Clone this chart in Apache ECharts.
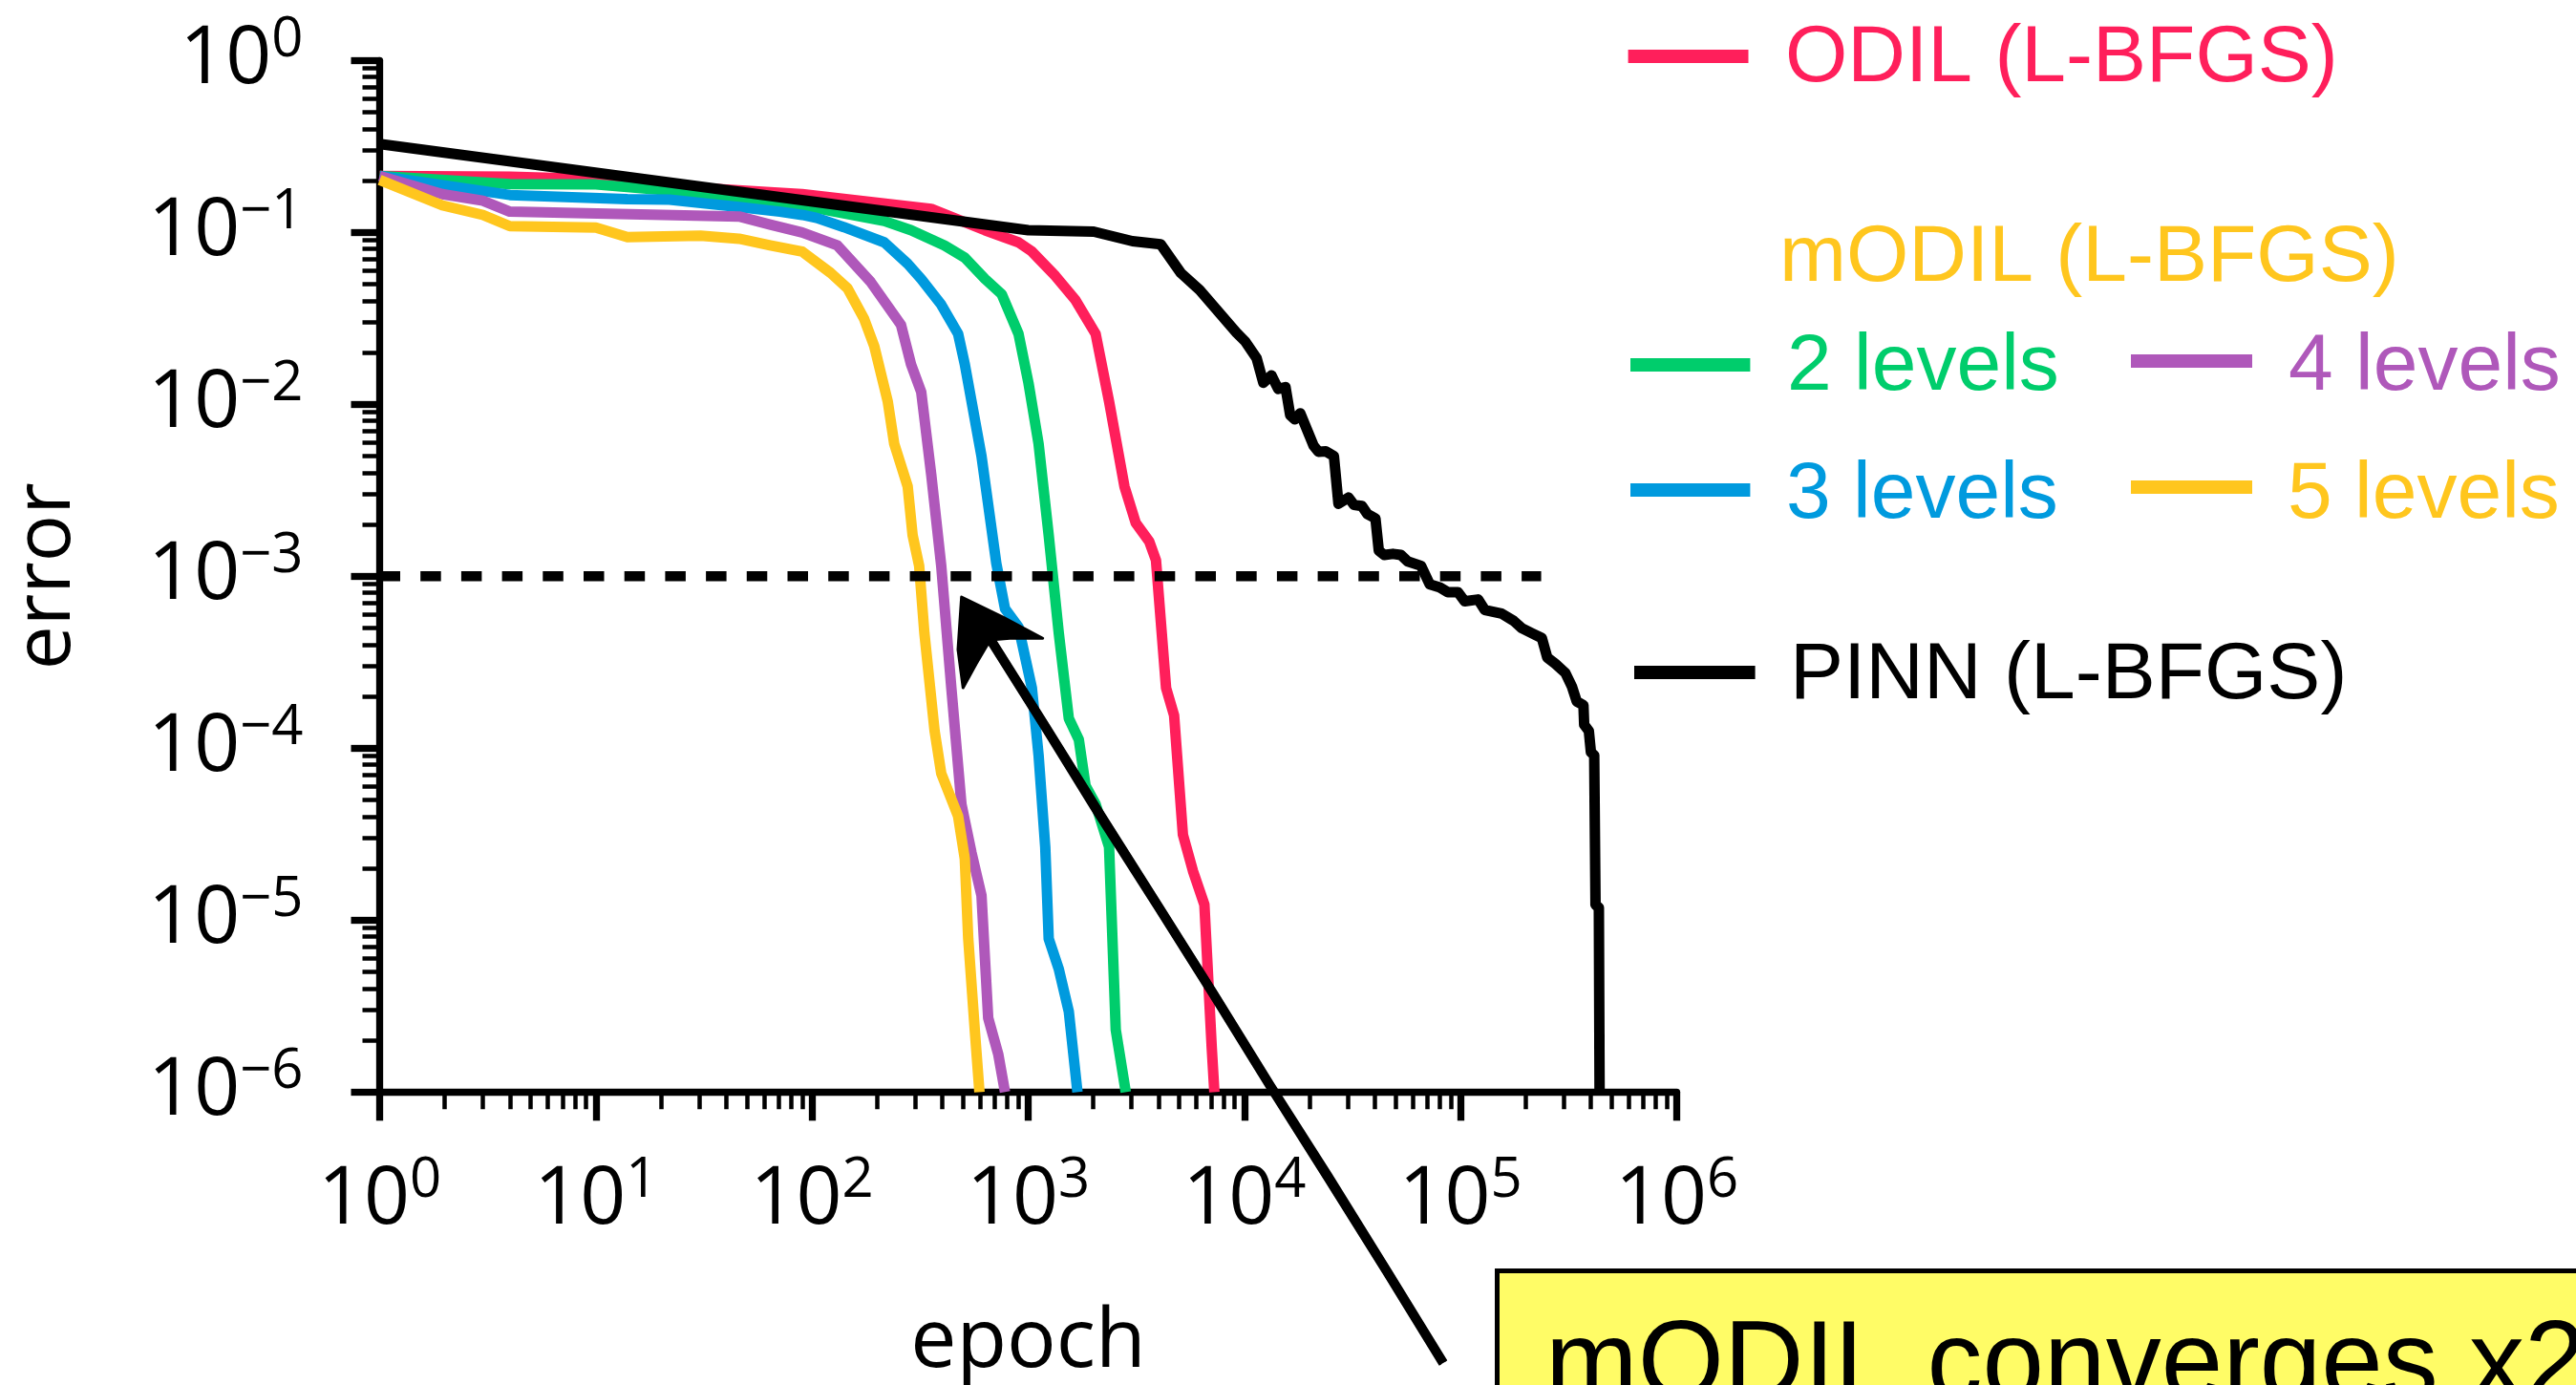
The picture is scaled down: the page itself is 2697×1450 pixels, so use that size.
<!DOCTYPE html>
<html>
<head>
<meta charset="utf-8">
<title>error vs epoch</title>
<style>
  html, body { margin: 0; padding: 0; background: #ffffff; }
  #chart { width: 2697px; height: 1450px; }
</style>
<script src="https://cdn.jsdelivr.net/npm/echarts@6/dist/echarts.min.js"></script>
</head>
<body>
<div id="chart"></div>
<script>
// ---- data: error per epoch ----
const odilEpoch = [1, 4, 10, 16.5, 90, 356, 630, 902, 1040, 1336, 1656, 2051, 2366, 2788, 3145, 3633, 3900, 4343, 4731, 5196, 5785, 6532, 7066, 7265];
const odilError = [0.213, 0.211, 0.2045, 0.19, 0.167, 0.137, 0.103, 0.0875, 0.0774, 0.0558, 0.0403, 0.0257, 0.0104, 0.00333, 0.00204, 0.00159, 0.00124, 0.000224, 0.000155, 3.14e-5, 1.93e-5, 1.23e-5, 1.8e-6, 1e-6];

const lv2Epoch = [1, 4, 10, 21.9, 32.6, 90, 216, 287, 410, 509, 631, 754, 902, 1003, 1117, 1244, 1385, 1541, 1715, 1842, 2051, 2366, 2541, 2827];
const lv2Error = [0.213, 0.191, 0.19, 0.175, 0.163, 0.1436, 0.1165, 0.103, 0.084, 0.0713, 0.0536, 0.0437, 0.0257, 0.0133, 0.00589, 0.00173, 0.000467, 0.000149, 0.000112, 6.05e-5, 4.73e-5, 2.67e-5, 2.3e-6, 1e-6];

const lv3Epoch = [1, 4, 14, 21.9, 46, 71, 90, 105, 140, 216, 277, 320, 396, 474, 509, 608, 712, 781, 902, 1040, 1117, 1199, 1244, 1385, 1541, 1690];
const lv3Error = [0.213, 0.165, 0.156, 0.155, 0.1405, 0.132, 0.1264, 0.1214, 0.1074, 0.0875, 0.0657, 0.0536, 0.038, 0.0257, 0.0171, 0.005, 0.00119, 0.000648, 0.000507, 0.000224, 9.1e-5, 2.67e-5, 7.8e-6, 5.2e-6, 2.94e-6, 1e-6];

const lv4Epoch = [1, 1.95, 3, 4, 46, 64, 90, 131, 187, 258, 287, 320, 356, 396, 441, 491, 547, 608, 653, 727, 781];
const lv4Error = [0.213, 0.167, 0.153, 0.132, 0.1237, 0.111, 0.1, 0.084, 0.0514, 0.029, 0.0171, 0.0118, 0.0039, 0.00115, 0.000224, 4.73e-5, 2.46e-5, 1.39e-5, 2.7e-6, 1.66e-6, 1e-6];

const lv5Epoch = [1, 1.95, 3, 4, 10, 14, 30.5, 46, 64, 90, 122, 146, 174, 194, 224, 240, 258, 277, 292, 313, 331, 369, 396, 474, 509, 528, 566, 595];
const lv5Error = [0.202, 0.1436, 0.1264, 0.1088, 0.1066, 0.0938, 0.0958, 0.0918, 0.084, 0.0774, 0.0581, 0.0473, 0.0315, 0.0218, 0.0104, 0.00589, 0.00442, 0.00333, 0.00173, 0.00115, 0.000467, 0.000126, 7.13e-5, 4.02e-5, 2.27e-5, 7.8e-6, 2.3e-6, 1e-6];

const pinnEpoch = [1, 1000, 2009, 3037, 4100, 5080, 6210, 9200, 10090, 11400, 12240, 13340, 14330, 15500, 16290, 17130, 18130, 20900, 22000, 23800, 25950, 27240, 30340, 32120, 35000, 37060, 40390, 41860, 44340, 48640, 52990, 56940, 65640, 72050, 80200, 87370, 97300, 104500, 120500, 129400, 154800, 176100, 191900, 213500, 237700, 251700, 274300, 305400, 328000, 344700, 370200, 373100, 392100, 400800, 415200, 421000, 436300, 439600];
const pinnError = [0.327, 0.103, 0.101, 0.0889, 0.0853, 0.0581, 0.0462, 0.0261, 0.0232, 0.0185, 0.01334, 0.01473, 0.0123, 0.01259, 0.00865, 0.00817, 0.00887, 0.00575, 0.0053, 0.00533, 0.005, 0.00264, 0.00287, 0.0026, 0.00256, 0.0023, 0.00217, 0.00141, 0.00133, 0.00135, 0.00133, 0.00122, 0.00115, 0.000897, 0.000861, 0.000807, 0.000807, 0.000715, 0.000733, 0.000637, 0.000607, 0.00055, 0.000499, 0.000467, 0.000437, 0.000337, 0.00031, 0.000274, 0.000227, 0.000187, 0.000178, 0.000137, 0.000126, 9.48e-5, 9.1e-5, 1.23e-5, 1.18e-5, 1e-6];

// reference level for the error target
const targetEpoch = [1, 236000];
const targetError = [1e-3, 1e-3];

// tick values
const xDecades = [1, 10, 100, 1e3, 1e4, 1e5, 1e6];
const yDecades = [1e-6, 1e-5, 1e-4, 1e-3, 1e-2, 1e-1, 1];

// legend texts
const seriesNames = ['ODIL (L-BFGS)', '2 levels', '3 levels', '4 levels', '5 levels', 'PINN (L-BFGS)'];
const groupTitle = 'mODIL (L-BFGS)';
const noteText = 'mODIL converges x2';

// ---- style ----
const COLORS = {
  odil: '#FF1F5B', lv2: '#00CD6C', lv3: '#009ADE', lv4: '#AF58BA', lv5: '#FFC61E', pinn: '#000000'
};
const AXIS_FONT = '"Open Sans", "Noto Sans", sans-serif';
const TEXT_FONT = '"Liberation Sans", Arial, sans-serif';
const LINE_W = 11;

function pairs(xs, ys) { return xs.map((x, i) => [x, ys[i]]); }

// minor tick positions 2..9 x 10^k between two decades
function minorTicks(lo, hi) {
  const out = [];
  for (let e = lo; e < hi; e++) {
    for (let m = 2; m <= 9; m++) out.push(m * Math.pow(10, e));
  }
  return out;
}

function powLabel(v) {
  const e = Math.round(Math.log10(v));
  const s = e < 0 ? '\u2212' + (-e) : String(e);
  return '{b|10}{s|' + s + '}';
}

const labelRich = {
  b: { fontFamily: AXIS_FONT, fontSize: 84, lineHeight: 100, color: '#000' },
  s: { fontFamily: AXIS_FONT, fontSize: 58, lineHeight: 54, verticalAlign: 'top', color: '#000' }
};

const GRID = { left: 397.5, top: 63.3, right: 941.5, bottom: 306.7 };

const chart = echarts.init(document.getElementById('chart'), null, { renderer: 'canvas' });

function lineSeries(name, xs, ys, color, z) {
  return {
    name: name, type: 'line', xAxisIndex: 0, yAxisIndex: 0,
    data: pairs(xs, ys), showSymbol: false, symbol: 'none', silent: true,
    lineStyle: { color: color, width: LINE_W, join: 'round', cap: 'butt' },
    z: z, animation: false
  };
}

const majorAxisCommon = {
  type: 'log', logBase: 10, interval: 1,
  axisLine: { show: true, onZero: false, lineStyle: { color: '#000', width: 7.3 } },
  axisTick: { show: true, inside: false, length: 30, lineStyle: { color: '#000', width: 7.3 } },
  splitLine: { show: false }, minorTick: { show: false }, minorSplitLine: { show: false }
};

const option = {
  backgroundColor: '#ffffff',
  animation: false,
  grid: { left: GRID.left, top: GRID.top, right: GRID.right, bottom: GRID.bottom, containLabel: false, outerBoundsMode: 'none' },
  xAxis: [
    Object.assign({}, majorAxisCommon, {
      min: 1, max: 1e6, position: 'bottom',
      axisTick: Object.assign({}, majorAxisCommon.axisTick, { customValues: xDecades }),
      axisLabel: { show: true, margin: 64, customValues: xDecades, formatter: powLabel, rich: labelRich, showMinLabel: true, showMaxLabel: true, hideOverlap: false },
      name: 'epoch', nameLocation: 'middle', nameGap: 220,
      nameTextStyle: { fontFamily: AXIS_FONT, fontSize: 86, color: '#000' }
    }),
    {
      type: 'log', logBase: 10, min: 1, max: 1e6, position: 'bottom', offset: 0,
      axisLine: { show: false }, axisLabel: { show: false }, splitLine: { show: false },
      axisTick: { show: true, inside: false, length: 18, customValues: minorTicks(0, 6), lineStyle: { color: '#000', width: 4.5 } }
    }
  ],
  yAxis: [
    Object.assign({}, majorAxisCommon, {
      min: 1e-6, max: 1, position: 'left',
      axisTick: Object.assign({}, majorAxisCommon.axisTick, { customValues: yDecades }),
      axisLabel: { show: true, margin: 80, customValues: yDecades, formatter: powLabel, rich: labelRich, showMinLabel: true, showMaxLabel: true, hideOverlap: false },
      name: 'error', nameLocation: 'middle', nameGap: 307, nameRotate: 90,
      nameTextStyle: { fontFamily: AXIS_FONT, fontSize: 82, color: '#000' }
    }),
    {
      type: 'log', logBase: 10, min: 1e-6, max: 1, position: 'left', offset: 0,
      axisLine: { show: false }, axisLabel: { show: false }, splitLine: { show: false },
      axisTick: { show: true, inside: false, length: 18, customValues: minorTicks(-6, 0), lineStyle: { color: '#000', width: 4.5 } }
    }
  ],
  series: [
    lineSeries(seriesNames[0], odilEpoch, odilError, COLORS.odil, 3),
    lineSeries(seriesNames[1], lv2Epoch, lv2Error, COLORS.lv2, 4),
    lineSeries(seriesNames[2], lv3Epoch, lv3Error, COLORS.lv3, 5),
    lineSeries(seriesNames[3], lv4Epoch, lv4Error, COLORS.lv4, 6),
    lineSeries(seriesNames[4], lv5Epoch, lv5Error, COLORS.lv5, 7),
    lineSeries(seriesNames[5], pinnEpoch, pinnError, COLORS.pinn, 8),
    {
      name: 'target', type: 'line', xAxisIndex: 0, yAxisIndex: 0,
      data: pairs(targetEpoch, targetError), showSymbol: false, symbol: 'none', silent: true,
      lineStyle: { color: '#000', width: 10.5, type: [21.5, 21.2], cap: 'butt' },
      z: 9, animation: false
    }
  ],
  graphic: []
};

// legend block (line swatch + coloured label)
const legendFont = '84px ' + TEXT_FONT;
function swatch(x1, x2, y, color) {
  return { type: 'line', silent: true, z: 50, shape: { x1: x1, y1: y, x2: x2, y2: y }, style: { stroke: color, lineWidth: 14, lineCap: 'butt' } };
}
function label(x, y, text, color) {
  return { type: 'text', silent: true, z: 50, x: x, y: y, style: { text: text, font: legendFont, fill: color, textAlign: 'left', textVerticalAlign: 'middle' } };
}
const legendItems = [
  swatch(1704.6, 1830.5, 59, COLORS.odil), label(1869, 61.5, seriesNames[0], COLORS.odil),
  label(1863, 271, groupTitle, COLORS.lv5),
  swatch(1707, 1832.4, 382, COLORS.lv2), label(1871, 385, seriesNames[1], COLORS.lv2),
  swatch(2231, 2358, 378, COLORS.lv4), label(2396, 385, seriesNames[3], COLORS.lv4),
  swatch(1707, 1832.4, 513, COLORS.lv3), label(1870, 519, seriesNames[2], COLORS.lv3),
  swatch(2231, 2358, 510, COLORS.lv5), label(2395, 519, seriesNames[4], COLORS.lv5),
  swatch(1711, 1837.6, 704, COLORS.pinn), label(1874, 708, seriesNames[5], COLORS.pinn)
];

// hand-drawn style arrow: a thick stroke with two slightly wobbling companions
const arrowItems = [
  { type: 'polyline', silent: true, z: 60,
    shape: { points: [[1036, 668], [1092, 757], [1150, 850], [1212, 948], [1270, 1040], [1330, 1137], [1390, 1232], [1452, 1331], [1511, 1427]] },
    style: { stroke: '#000', lineWidth: 9, fill: null, lineJoin: 'round' } },
  { type: 'polyline', silent: true, z: 60,
    shape: { points: [[1039, 666], [1095, 755], [1153, 848], [1215, 946], [1273, 1038], [1333, 1135], [1393, 1229], [1455, 1329], [1514, 1425]] },
    style: { stroke: '#000', lineWidth: 3, fill: null } },
  { type: 'polyline', silent: true, z: 60,
    shape: { points: [[1033, 670], [1089, 759], [1147, 853], [1209, 950], [1267, 1042], [1327, 1139], [1387, 1234], [1449, 1333], [1508, 1429]] },
    style: { stroke: '#000', lineWidth: 3, fill: null } },
  { type: 'polygon', silent: true, z: 60,
    shape: { points: [[1006.7, 625], [1050, 646], [1091.7, 668.3], [1060, 668], [1036.7, 670], [1022, 695], [1008.3, 720], [1003, 680]] },
    style: { fill: '#000', stroke: '#000', lineWidth: 3, lineJoin: 'round' } },
  { type: 'rect', silent: true, z: 40,
    shape: { x: 1567.5, y: 1330.5, width: 1300, height: 300 },
    style: { fill: '#FFFC66', stroke: '#000', lineWidth: 5 } },
  { type: 'text', silent: true, z: 41, x: 1618, y: 1374,
    style: { text: noteText, font: '116px ' + TEXT_FONT, fill: '#000', textAlign: 'left', textVerticalAlign: 'top' } }
];

option.graphic = legendItems.concat(arrowItems);
chart.setOption(option);
</script>
</body>
</html>
